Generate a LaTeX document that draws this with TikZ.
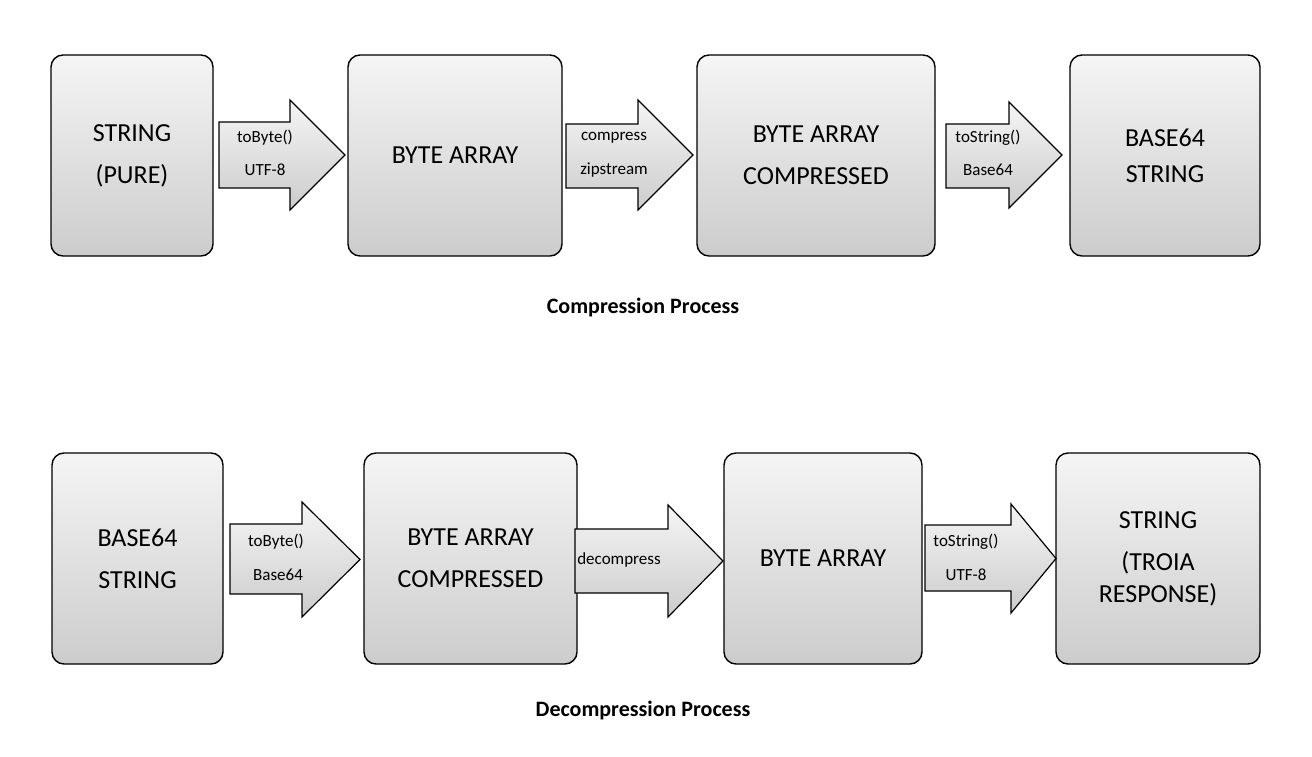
\documentclass[tikz,border=0pt]{standalone}
\usepackage{fontspec}
\setmainfont{Carlito}
\begin{document}
\begin{tikzpicture}[x=1pt,y=-1pt,
 box/.style={draw=black,line width=1.4pt,rounded corners=12pt,top color=gray!8,bottom color=gray!40,font=\fontsize{26}{32}\selectfont,align=center,inner sep=0pt},
 arr/.style={draw=black,line width=1.2pt,top color=gray!8,bottom color=gray!40},
 lab/.style={font=\fontsize{17}{20}\selectfont,inner sep=0pt},
 ttl/.style={font=\bfseries\fontsize{22}{26}\selectfont}]
\useasboundingbox (0,0) rectangle (1312,757);
\newcommand\mybox[6]{\node[box,minimum width={#3-#2},minimum height={#5-#4}] (#1) at ({(#2+#3)/2},{(#4+#5)/2}) {#6};}
\newcommand\myarr[7]{\path[arr] (#1,#4) -- (#3,#4) -- (#3,#6) -- (#2,{(#6+#7)/2}) -- (#3,#7) -- (#3,#5) -- (#1,#5) -- cycle;}
% top
\mybox{a1}{51}{213}{55}{256}{STRING\\[10pt](PURE)}
\mybox{b1}{348}{562}{55}{256}{BYTE ARRAY}
\mybox{c1}{697}{935}{55}{256}{BYTE ARRAY\\[10pt]COMPRESSED}
\mybox{d1}{1070}{1260}{55}{256}{BASE64\\[4pt]STRING}
\myarr{219}{345}{290}{122}{188}{100}{210}
\myarr{566}{693}{638}{124}{188}{100}{210}
\myarr{946}{1062}{1009}{124}{188}{102}{208}
\node[lab] (l1) at (265,138) {toByte()};
\node[lab] (l2) at (265,170) {UTF-8};
\node[lab] (l3) at (614,138) {compress};
\node[lab] (l4) at (614,170) {zipstream};
\node[lab] (l5) at (988,138) {toString()};
\node[lab] (l6) at (988,170) {Base64};
\node[ttl] (t1) at (643,308) {Compression Process};
% bottom
\mybox{a2}{52}{223}{453}{664}{BASE64\\[10pt]STRING}
\mybox{b2}{364}{577}{453}{664}{BYTE ARRAY\\[10pt]COMPRESSED}
\mybox{c2}{724}{922}{453}{664}{BYTE ARRAY}
\mybox{d2}{1056}{1260}{453}{664}{STRING\\[10pt](TROIA\\RESPONSE)}
\myarr{230}{360}{302}{524}{594}{502}{617}
\myarr{575}{723}{668}{529}{593}{505}{617}
\myarr{925}{1056}{1011}{525}{591}{504}{613}
\node[lab] (m1) at (276,542) {toByte()};
\node[lab] (m2) at (278,575) {Base64};
\node[lab] (m3) at (619,560) {decompress};
\node[lab] (m4) at (966,542) {toString()};
\node[lab] (m5) at (966,575) {UTF-8};
\node[ttl] (t2) at (643,711) {Decompression Process};
\end{tikzpicture}
\end{document}
